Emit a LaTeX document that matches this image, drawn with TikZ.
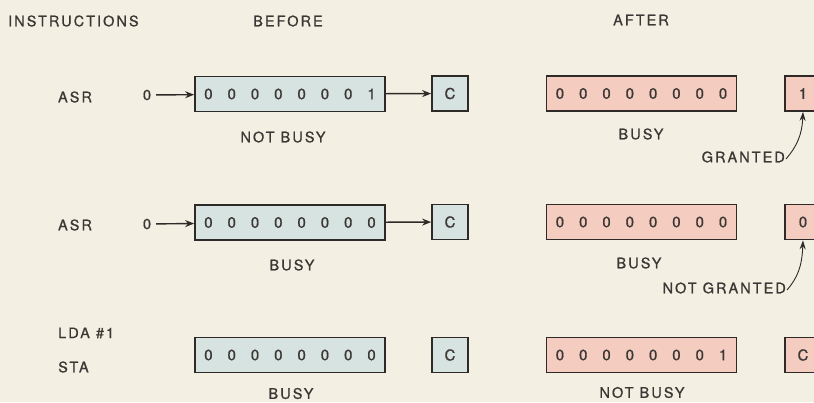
\documentclass[tikz,border=0pt]{standalone}
\usepackage{fontspec}
\setmainfont{TeX Gyre Heros}[LetterSpace=14,FakeBold=0.8]
\usetikzlibrary{arrows.meta}
\definecolor{bg}{HTML}{F4EFE3}
\definecolor{bluefill}{HTML}{D6E3E1}
\definecolor{pinkfill}{HTML}{F5CDC0}
\definecolor{ink}{HTML}{2E2A28}
\definecolor{txt}{HTML}{3C3734}
\newcommand\bitcell[1]{\makebox[23.3pt]{#1}}
\newcommand\bitrow[8]{\bitcell{#1}\bitcell{#2}\bitcell{#3}\bitcell{#4}\bitcell{#5}\bitcell{#6}\bitcell{#7}\bitcell{#8}}
\tikzset{
  lbl/.style={text=txt,font=\fontsize{14.5}{16}\selectfont,inner sep=0pt},
  src/.style={lbl,outer sep=5pt},
  regbox/.style={draw=ink,line width=1.7pt,minimum width=190pt,minimum height=35pt,inner sep=0pt,text=txt,font=\fontsize{15}{16}\selectfont},
  cbox/.style={draw=ink,line width=1.7pt,minimum width=36pt,minimum height=35pt,inner sep=0pt,text=txt,font=\fontsize{15}{16}\selectfont},
  blue/.style={fill=bluefill},
  pink/.style={fill=pinkfill},
  arr/.style={draw=ink,line width=1.4pt,-{Stealth[length=9pt,width=7pt]}},
  thinarr/.style={draw=ink,line width=0.9pt,-{Stealth[length=9pt,width=6pt]}}
}
\begin{document}
\begin{tikzpicture}[x=1pt,y=-1pt]
\fill[bg] (0,0) rectangle (814,402);
\useasboundingbox (0,0) rectangle (814,402);
\clip (0,0) rectangle (814,402);
% headings
\node[lbl,anchor=west] (hins) at (8,21) {INSTRUCTIONS};
\node[lbl] (hbef) at (288,21) {BEFORE};
\node[lbl] (haft) at (641,20) {AFTER};
% row 1
\node[lbl] (i1) at (75,97) {ASR};
\node[src] (z1) at (147,95) {0};
\node[regbox,blue] (b1) at (290,94) {\bitrow00000001};
\node[cbox,blue] (c1) at (450,93.5) {C};
\node[regbox,pink] (a1) at (641.5,93.5) {\bitrow00000000};
\node[cbox,pink] (r1) at (803,93.5) {1};
\node[lbl] (s1) at (283,137) {NOT BUSY};
\node[lbl] (t1) at (641,134) {BUSY};
\node[lbl,anchor=east] (g1) at (785,157) {GRANTED};
\draw[arr] (z1) -- (b1);
\draw[arr] (b1) -- (c1);
\draw[thinarr] ([xshift=1pt,yshift=-2pt]g1.east) .. controls (797,146) and (802,135) .. (r1.south);
% row 2
\node[lbl] (i2) at (75,225) {ASR};
\node[src] (z2) at (147,224) {0};
\node[regbox,blue] (b2) at (290,222.5) {\bitrow00000000};
\node[cbox,blue] (c2) at (450,222) {C};
\node[regbox,pink] (a2) at (641.5,222) {\bitrow00000000};
\node[cbox,pink] (r2) at (803,222) {0};
\node[lbl] (s2) at (292,265) {BUSY};
\node[lbl] (t2) at (639,263) {BUSY};
\node[lbl,anchor=east] (g2) at (786,288) {NOT GRANTED};
\draw[arr] (z2) -- (b2);
\draw[arr] (b2) -- (c2);
\draw[thinarr] ([xshift=1pt,yshift=-2pt]g2.east) .. controls (798,277) and (802,266) .. (r2.south);
% row 3
\node[lbl,anchor=west] (i3) at (58,333) {LDA \#1};
\node[lbl,anchor=west] (i4) at (58,367) {STA};
\node[regbox,blue] (b3) at (290,355) {\bitrow00000000};
\node[cbox,blue] (c3) at (450,355) {C};
\node[regbox,pink] (a3) at (641.5,355) {\bitrow00000001};
\node[cbox,pink] (r3) at (803,355) {C};
\node[lbl] (s3) at (291,393.5) {BUSY};
\node[lbl] (t3) at (642,392.5) {NOT BUSY};
\end{tikzpicture}
\end{document}
